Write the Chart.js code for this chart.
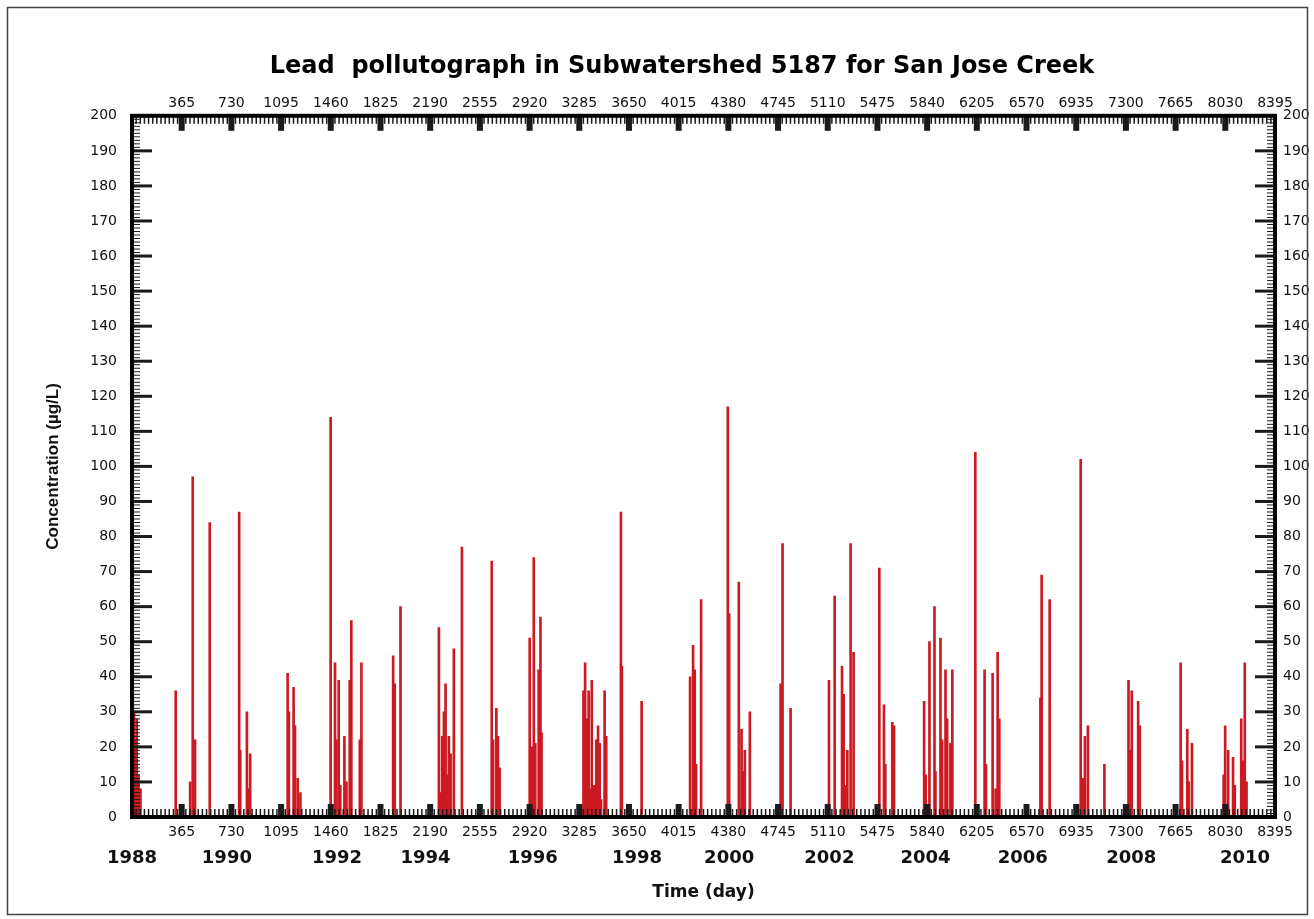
<!DOCTYPE html>
<html>
<head>
<meta charset="utf-8">
<title>Lead pollutograph</title>
<script src="https://cdn.jsdelivr.net/npm/chart.js@4.4.1/dist/chart.umd.min.js"></script>
<style>
  html, body { margin: 0; padding: 0; background: #fff; }
  #wrap { width: 1314px; height: 919px; position: relative; }
</style>
</head>
<body>
<div id="wrap"><canvas id="pollutograph"></canvas></div>
<script>
// event days (day 0 = start of 1988) and lead concentration (ug/L)
const eventDays = [5, 15, 25, 35, 48, 62,
    321, 427, 446, 463, 571, 787, 795, 844, 858, 868,
    1143, 1152, 1187, 1197, 1217, 1237,
    1459, 1491, 1501, 1518, 1530, 1560, 1575, 1599, 1611, 1673, 1685,
    1918, 1930, 1972,
    2254, 2266, 2278, 2291, 2303, 2315, 2327, 2340, 2364, 2423,
    2642, 2652, 2676, 2688, 2700,
    2921, 2938, 2951, 2962, 2987, 3000, 3008,
    3316, 3328, 3341, 3354, 3364, 3377, 3395, 3410, 3423, 3435, 3445, 3471, 3483,
    3591, 3598, 3743,
    4099, 4121, 4133, 4143, 4180,
    4376, 4386, 4457, 4477, 4489, 4501, 4538,
    4764, 4778, 4837,
    5119, 5161, 5215, 5227, 5239, 5254, 5278, 5300,
    5489, 5523, 5533, 5584, 5597,
    5818, 5830, 5857, 5894, 5901, 5938, 5950, 5975, 5987, 6011, 6025,
    6194, 6262, 6272, 6321, 6343, 6358, 6370,
    6672, 6681, 6740,
    6968, 6987, 6999, 7021, 7142,
    7319, 7331, 7343, 7390, 7402,
    7702, 7712, 7751, 7761, 7785,
    8018, 8029, 8051, 8087, 8100, 8147, 8159, 8173, 8186];

const leadConc = [38, 30, 22, 28, 12, 8,
    36, 10, 97, 22, 84, 87, 19, 30, 8, 18,
    41, 30, 37, 26, 11, 7,
    114, 44, 22, 39, 9, 23, 10, 39, 56, 22, 44,
    46, 38, 60,
    54, 7, 23, 30, 38, 12, 23, 18, 48, 77,
    73, 22, 31, 23, 14,
    51, 20, 74, 21, 42, 57, 24,
    36, 44, 28, 36, 8, 39, 9, 22, 26, 21, 5, 36, 23,
    87, 43, 33,
    40, 49, 42, 15, 62,
    117, 58, 67, 25, 13, 19, 30,
    38, 78, 31,
    39, 63, 43, 35, 9, 19, 78, 47,
    71, 32, 15, 27, 26,
    33, 12, 50, 60, 13, 51, 22, 42, 28, 21, 42,
    104, 42, 15, 41, 8, 47, 28,
    34, 69, 62,
    102, 11, 23, 26, 15,
    39, 19, 36, 33, 26,
    44, 16, 25, 10, 21,
    12, 26, 19, 17, 9, 28, 16, 44, 10];

const dayTicks = [365, 730, 1095, 1460, 1825, 2190, 2555, 2920, 3285, 3650, 4015, 4380,
    4745, 5110, 5475, 5840, 6205, 6570, 6935, 7300, 7665, 8030, 8395];
const yearTickDays = [0, 697, 1506, 2156, 2943, 3709, 4386, 5122, 5828, 6542, 7339, 8175];
const yearLabels = ['1988', '1990', '1992', '1994', '1996', '1998', '2000', '2002', '2004', '2006', '2008', '2010'];
const concTicks = [0, 10, 20, 30, 40, 50, 60, 70, 80, 90, 100, 110, 120, 130, 140, 150, 160, 170, 180, 190, 200];

const FONT = "'DejaVu Sans', 'Liberation Sans', Arial, sans-serif";

function fixedTicks(values) {
    return function (scale) {
        scale.ticks = values.map(v => ({ value: v }));
    };
}

const plainLabel = v => String(v);

// inward tick marks, axis box and page frame
const axisMarks = {
    id: 'axisMarks',
    afterDatasetsDraw(chart) {
        const { ctx, chartArea: a, scales } = chart;
        const xs = scales.x, ys = scales.y;
        ctx.save();
        ctx.fillStyle = '#1a1a1a';
        for (let v = 0; v <= 200; v++) {
            const py = ys.getPixelForValue(v);
            const major = v % 10 === 0;
            const len = major ? 20 : 8;
            const w = major ? 3 : 1;
            ctx.fillRect(a.left, py - w / 2, len, w);
            ctx.fillRect(a.right - len, py - w / 2, len, w);
        }
        const step = 365 / 12;
        for (let i = 1; i < 276; i++) {
            const px = xs.getPixelForValue(i * step);
            if (i % 12 === 0) {
                ctx.fillRect(px - 3, a.top, 6, 15);
                ctx.fillRect(px - 3, a.bottom - 13, 6, 13);
            } else {
                ctx.fillRect(px - 0.75, a.top, 1.5, 8);
                ctx.fillRect(px - 0.75, a.bottom - 8, 1.5, 8);
            }
        }
        ctx.strokeStyle = '#000';
        ctx.lineWidth = 4;
        ctx.strokeRect(a.left, a.top, a.right - a.left, a.bottom - a.top);
        ctx.strokeStyle = '#444';
        ctx.lineWidth = 1.5;
        ctx.strokeRect(7.5, 7.5, 1300, 907);
        ctx.restore();
    }
};

const points = eventDays.map((d, i) => ({ x: d, y: leadConc[i] }));

const tickFont = { family: FONT, size: 14 };

new Chart(document.getElementById('pollutograph'), {
    type: 'bar',
    data: {
        datasets: [{
            label: 'Lead',
            data: points,
            backgroundColor: '#cc1a22',
            borderWidth: 0,
            barThickness: 2
        }]
    },
    options: {
        responsive: true,
        maintainAspectRatio: false,
        animation: false,
        // left padding shifts the title centre right; the y axis is narrowed to match
        layout: { padding: { left: 50, right: 0, top: 0, bottom: 0 } },
        plugins: {
            legend: { display: false },
            tooltip: { enabled: false },
            title: {
                display: true,
                text: 'Lead  pollutograph in Subwatershed 5187 for San Jose Creek',
                color: '#000',
                font: { family: FONT, size: 24, weight: 'bold' },
                padding: { top: 52, bottom: 5 }
            }
        },
        scales: {
            x: {
                type: 'linear', position: 'bottom', min: 0, max: 8395, offset: false, weight: 0,
                grid: { display: false, drawTicks: false }, border: { display: false },
                afterBuildTicks: fixedTicks(dayTicks),
                afterFit(s) { s.height = 28; },
                ticks: { autoSkip: false, maxRotation: 0, padding: 7, color: '#111', font: tickFont, callback: plainLabel }
            },
            xYear: {
                type: 'linear', position: 'bottom', min: 0, max: 8395, offset: false, weight: 1,
                grid: { display: false, drawTicks: false }, border: { display: false },
                afterBuildTicks: fixedTicks(yearTickDays),
                afterFit(s) { s.height = 74; },
                ticks: {
                    autoSkip: false, maxRotation: 0, padding: 3, color: '#111',
                    font: { family: FONT, size: 18, weight: 'bold' },
                    callback: (v, i) => yearLabels[i]
                },
                title: {
                    display: true, text: 'Time (day)', color: '#111',
                    font: { family: FONT, size: 17, weight: 'bold' },
                    padding: { top: 0, bottom: 16 }
                }
            },
            xTop: {
                type: 'linear', position: 'top', min: 0, max: 8395, offset: false,
                grid: { display: false, drawTicks: false }, border: { display: false },
                afterBuildTicks: fixedTicks(dayTicks),
                afterFit(s) { s.height = 30; },
                ticks: { autoSkip: false, maxRotation: 0, padding: 4, color: '#111', font: tickFont, callback: plainLabel }
            },
            y: {
                type: 'linear', position: 'left', min: 0, max: 200,
                grid: { display: false, drawTicks: false }, border: { display: false },
                afterBuildTicks: fixedTicks(concTicks),
                afterFit(s) { s.width = 82; },
                ticks: { autoSkip: false, padding: 15, color: '#111', font: tickFont, callback: plainLabel },
                title: {
                    display: true, text: 'Concentration (\u00b5g/L)', color: '#111',
                    font: { family: "'Liberation Sans Narrow', 'Liberation Sans', Arial, sans-serif", size: 17, weight: 'bold' },
                    padding: { top: -7, bottom: 0 }
                }
            },
            yRight: {
                type: 'linear', position: 'right', min: 0, max: 200,
                grid: { display: false, drawTicks: false }, border: { display: false },
                afterBuildTicks: fixedTicks(concTicks),
                afterFit(s) { s.width = 39; },
                ticks: { autoSkip: false, padding: 8, color: '#111', font: tickFont, callback: plainLabel }
            }
        }
    },
    plugins: [axisMarks]
});
</script>
</body>
</html>
